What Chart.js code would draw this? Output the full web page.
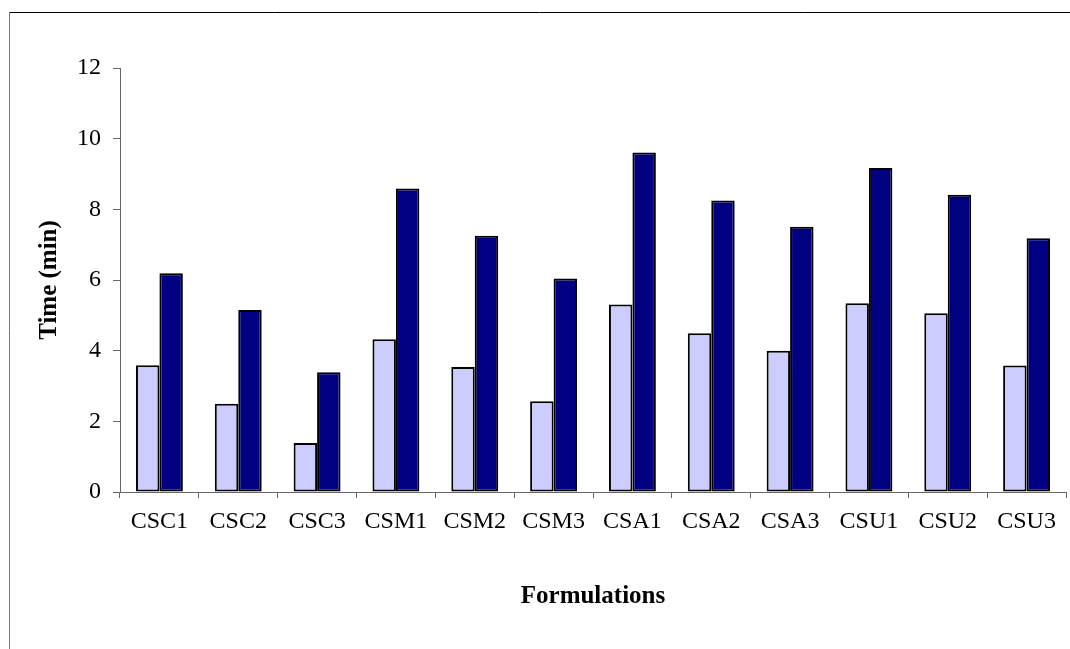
<!DOCTYPE html>
<html>
<head>
<meta charset="utf-8">
<script src="https://cdn.jsdelivr.net/npm/chart.js@4"></script>
<style>
  html, body { margin: 0; padding: 0; background: #fff; }
  #wrap { position: relative; width: 1070px; height: 649px; }
</style>
</head>
<body>
<div id="wrap"><canvas id="c" width="1070" height="649"></canvas></div>
<script>
const categories = ["CSC1","CSC2","CSC3","CSM1","CSM2","CSM3","CSA1","CSA2","CSA3","CSU1","CSU2","CSU3"];
const seriesLight = [3.59, 2.50, 1.39, 4.32, 3.54, 2.57, 5.31, 4.49, 4.00, 5.34, 5.06, 3.58];
const seriesDark  = [6.19, 5.15, 3.39, 8.59, 7.25, 6.04, 9.61, 8.25, 7.51, 9.17, 8.41, 7.18];
const yTicks = [0, 2, 4, 6, 8, 10, 12];

const frame = {
  id: 'frame',
  beforeDraw(chart) {
    const ctx = chart.ctx;
    ctx.save();
    ctx.lineWidth = 1;
    ctx.strokeStyle = '#000';
    ctx.beginPath();
    ctx.moveTo(9, 12.5); ctx.lineTo(1070, 12.5);
    ctx.stroke();
    ctx.strokeStyle = '#777';
    ctx.beginPath();
    ctx.moveTo(9.5, 12); ctx.lineTo(9.5, 649);
    ctx.stroke();
    ctx.restore();
  }
};

Chart.defaults.font.family = '"Liberation Serif", "Times New Roman", serif';
Chart.defaults.color = '#000';

new Chart(document.getElementById('c'), {
  type: 'bar',
  data: {
    labels: categories,
    datasets: [
      { label: 'A', data: seriesLight, backgroundColor: '#CCCCFF', borderColor: '#000', borderWidth: 2, borderSkipped: false },
      { label: 'B', data: seriesDark, backgroundColor: '#000080', borderColor: '#000', borderWidth: 2, borderSkipped: false }
    ]
  },
  options: {
    responsive: false,
    animation: false,
    events: [],
    layout: { padding: { left: 0, right: 4, top: 68, bottom: 0 } },
    plugins: { legend: { display: false }, tooltip: { enabled: false } },
    datasets: { bar: { barPercentage: 1, categoryPercentage: 0.595 } },
    scales: {
      x: {
        grid: { drawOnChartArea: false, drawTicks: true, tickLength: 6, color: '#666', offset: true },
        border: { color: '#666', width: 1 },
        ticks: { font: { size: 24 }, padding: 9.5, maxRotation: 0, autoSkip: false },
        title: { display: true, text: 'Formulations', font: { size: 25, weight: 'bold' }, padding: { top: 0, bottom: 37.5 } },
        afterFit(s) { s.height = 157; }
      },
      y: {
        min: 0, max: 12,
        afterBuildTicks(s) { s.ticks = yTicks.map(v => ({ value: v })); },
        grid: { drawOnChartArea: false, drawTicks: true, tickLength: 7, color: '#666' },
        border: { color: '#666', width: 1 },
        ticks: { font: { size: 24 }, padding: 12 },
        title: { display: true, text: 'Time (min)', font: { size: 25, weight: 'bold' }, padding: { top: 35, bottom: 0 } },
        afterFit(s) { s.width = 120; }
      }
    }
  },
  plugins: [frame]
});
</script>
</body>
</html>
